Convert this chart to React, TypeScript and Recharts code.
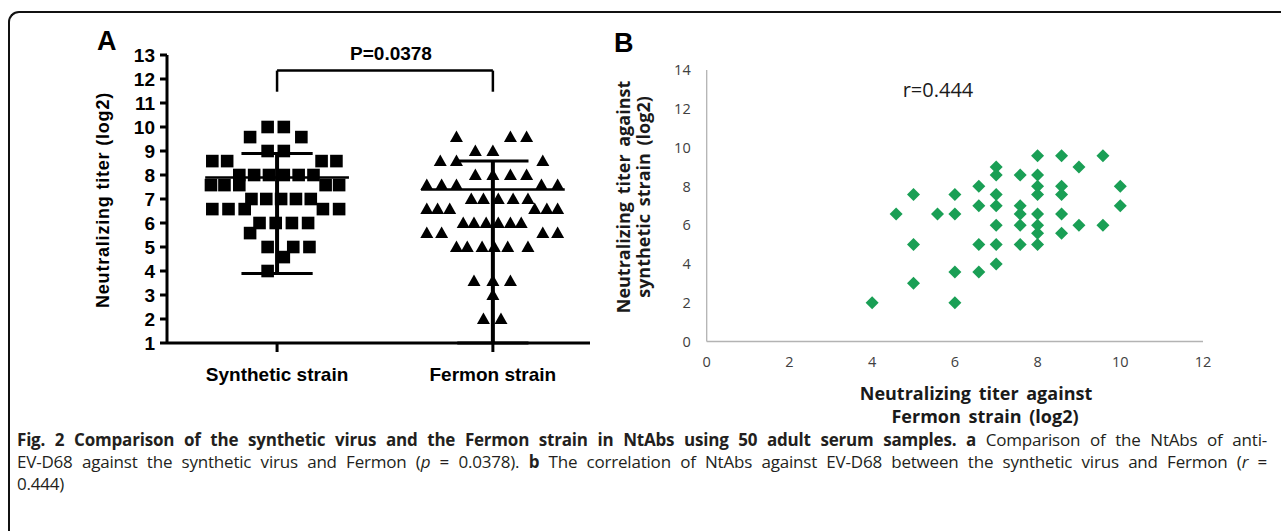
import React from "react";
import { ScatterChart, Scatter, XAxis, YAxis, ReferenceLine } from "recharts";

// ---- panel A data ----
const GROUPS = ["Synthetic strain", "Fermon strain"];
const A_TICKS = [1, 2, 3, 4, 5, 6, 7, 8, 9, 10, 11, 12, 13];

// [titer, horizontal slots of the markers in that row]
const SYN_ROWS: [number, number[]][] = [
  [10, [-0.7, 0.5]],
  [9.58, [-2, 1.8]],
  [9, [-0.7, 0.5]],
  [8.58, [-4.8, -3.7, 3.3, 4.4]],
  [8, [-2.8, -1.7, -0.6, 0.5, 1.6, 2.7]],
  [7.58, [-4.9, -3.9, -2.8, 3.6, 4.6]],
  [7, [-1.9, -0.8, 0.3, 1.4, 2.5]],
  [6.58, [-4.8, -3.6, -2.4, 3.4, 4.6]],
  [6, [-1.3, -0.1, 1.1, 2.3]],
  [5.58, [-2]],
  [5, [-0.7, 1.2, 2.4]],
  [4.58, [0.5]],
  [4, [-0.7]],
];

const FER_ROWS: [number, number[]][] = [
  [9.58, [-2.7, 1.3, 2.5]],
  [9, [-1.3, 0]],
  [8.58, [-3.9, -2.7, 3.7]],
  [8, [-1.3, 0, 1.3, 2.5]],
  [7.58, [-4.9, -3.8, -2.7, 3.6, 4.8]],
  [7, [-1.6, -0.7, 0.4, 1.5, 2.6]],
  [6.58, [-4.9, -4.1, -3.2, 3.1, 4, 4.8]],
  [6, [-2.2, -1.4, -0.5, 0.4, 1.3, 2.1]],
  [5.58, [-4.9, -3.8, 3.7, 4.8]],
  [5, [-2.7, -1.9, -0.8, 0.1, 1.1, 2.6]],
  [3.58, [-1.4, 0, 1.3]],
  [3, [0]],
  [2, [-0.7, 0.6]],
];

const SYN_STATS = { center: 7.9, low: 3.9, high: 8.9 };
const FER_STATS = { center: 7.4, low: 1, high: 8.58 };
const P_TEXT = "P=0.0378";

// ---- panel B data ----
const B_FERMON = [
  4, 4.58, 5, 5, 5, 5.58, 6, 6, 6, 6, 6.58, 6.58, 6.58, 6.58, 7, 7, 7, 7, 7, 7, 7,
  7.58, 7.58, 7.58, 7.58, 7.58, 8, 8, 8, 8, 8, 8, 8, 8, 8.58, 8.58, 8.58, 8.58, 8.58,
  9, 9, 9.58, 9.58, 10, 10,
];
const B_SYNTH = [
  2, 6.58, 7.58, 5, 3, 6.58, 7.58, 6.58, 3.58, 2, 8, 7, 5, 3.58, 9, 8.58, 7.58, 7, 6, 5, 4,
  8.58, 7, 6.58, 6, 5, 9.58, 8.58, 8, 7.58, 6.58, 6, 5.58, 5, 9.58, 8, 7.58, 6.58, 5.58,
  9, 6, 9.58, 6, 8, 7,
];
const B_XTICKS = [0, 2, 4, 6, 8, 10, 12];
const B_YTICKS = [0, 2, 4, 6, 8, 10, 12, 14];
const R_TEXT = "r=0.444";

const SLOT = 0.0625;
const ARIAL = "'Liberation Sans', Arial, sans-serif";
const OPEN = "'Open Sans', sans-serif";

const toPoints = (rows: [number, number[]][], group: number) =>
  rows.flatMap(([v, slots]) => slots.map((s) => ({ x: group + s * SLOT, y: v })));

const synPoints = toPoints(SYN_ROWS, 1);
const ferPoints = toPoints(FER_ROWS, 2);
const bPoints = B_FERMON.map((x, i) => ({ x, y: B_SYNTH[i] }));

const Square = (p: any) => {
  const r = 6.3;
  return <rect x={p.cx - r} y={p.cy - r} width={2 * r} height={2 * r} fill="#000" />;
};

const Triangle = (p: any) => (
  <path d={`M${p.cx},${p.cy - 6.5}L${p.cx + 6.5},${p.cy + 5}L${p.cx - 6.5},${p.cy + 5}Z`} fill="#000" />
);

const Diamond = (p: any) => {
  const r = 6.5;
  return (
    <path
      d={`M${p.cx},${p.cy - r}L${p.cx + r},${p.cy}L${p.cx},${p.cy + r}L${p.cx - r},${p.cy}Z`}
      fill="#1a9f55"
    />
  );
};

function statLines(g: number, s: { center: number; low: number; high: number }) {
  const k = `g${g}`;
  return [
    <ReferenceLine key={k + "v"} segment={[{ x: g, y: s.low }, { x: g, y: s.high }]} stroke="#000" strokeWidth={4} />,
    <ReferenceLine key={k + "m"} segment={[{ x: g - 0.333, y: s.center }, { x: g + 0.333, y: s.center }]} stroke="#000" strokeWidth={2.5} />,
    <ReferenceLine key={k + "h"} segment={[{ x: g - 0.165, y: s.high }, { x: g + 0.165, y: s.high }]} stroke="#000" strokeWidth={3} />,
    <ReferenceLine key={k + "l"} segment={[{ x: g - 0.165, y: s.low }, { x: g + 0.165, y: s.low }]} stroke="#000" strokeWidth={3} />,
  ];
}

function PanelA() {
  const top = 12.35;
  const foot = 11.47;
  return (
    <ScatterChart width={600} height={400} margin={{ top: 55, right: 10, bottom: 17, left: 107 }}>
      <XAxis
        type="number"
        dataKey="x"
        domain={[0.49, 2.45]}
        ticks={[1, 2]}
        tickFormatter={(v: number) => GROUPS[v - 1]}
        height={40}
        axisLine={{ stroke: "#000", strokeWidth: 3 }}
        tickLine={{ stroke: "#000", strokeWidth: 3 }}
        tickSize={9}
        tickMargin={16}
        tick={{ fill: "#000", fontSize: 19, fontWeight: 700, fontFamily: ARIAL }}
      />
      <YAxis
        type="number"
        dataKey="y"
        domain={[1, 13]}
        ticks={A_TICKS}
        interval={0}
        width={60}
        axisLine={{ stroke: "#000", strokeWidth: 3 }}
        tickLine={{ stroke: "#000", strokeWidth: 3 }}
        tickSize={7}
        tickMargin={5}
        tick={{ fill: "#000", fontSize: 19, fontWeight: 700, fontFamily: ARIAL }}
      />
      <Scatter data={synPoints} shape={Square} isAnimationActive={false} />
      <Scatter data={ferPoints} shape={Triangle} isAnimationActive={false} />
      {statLines(1, SYN_STATS)}
      {statLines(2, FER_STATS)}
      <ReferenceLine segment={[{ x: 1, y: top }, { x: 2, y: top }]} stroke="#000" strokeWidth={2.5} />
      <ReferenceLine segment={[{ x: 1, y: top }, { x: 1, y: foot }]} stroke="#000" strokeWidth={2.5} />
      <ReferenceLine segment={[{ x: 2, y: top }, { x: 2, y: foot }]} stroke="#000" strokeWidth={2.5} />
    </ScatterChart>
  );
}

function PanelB() {
  const tick = { fill: "#404040", fontSize: 14.5, fontFamily: OPEN };
  return (
    <ScatterChart width={640} height={440} margin={{ top: 70, right: 37, bottom: 68.5, left: 46.7 }}>
      <XAxis
        type="number"
        dataKey="x"
        domain={[0, 12]}
        ticks={B_XTICKS}
        interval={0}
        height={30}
        axisLine={{ stroke: "#b3b3b3", strokeWidth: 1.3 }}
        tickLine={false}
        tickSize={0}
        tickMargin={15}
        tick={tick}
      />
      <YAxis
        type="number"
        dataKey="y"
        domain={[0, 14]}
        ticks={B_YTICKS}
        interval={0}
        width={60}
        axisLine={{ stroke: "#b3b3b3", strokeWidth: 1.3 }}
        tickLine={false}
        tickSize={0}
        tickMargin={16}
        tick={tick}
      />
      <Scatter data={bPoints} shape={Diamond} isAnimationActive={false} />
    </ScatterChart>
  );
}

export default function App() {
  const abs = (l: number, t: number): React.CSSProperties => ({ position: "absolute", left: l, top: t });
  const line: React.CSSProperties = {
    position: "absolute",
    left: 17,
    width: 1250,
    fontFamily: OPEN,
    fontSize: 17,
    letterSpacing: -0.2,
    lineHeight: "22px",
    color: "#231f20",
  };
  return (
    <div style={{ position: "fixed", left: 0, top: 0, width: 1281, height: 531, background: "#fff", overflow: "hidden" }}>
      <div
        style={{
          position: "absolute",
          left: 8,
          top: 11,
          width: 1400,
          height: 700,
          borderLeft: "2px solid #111",
          borderTop: "2px solid #111",
          borderTopLeftRadius: 11,
        }}
      />
      <div style={abs(0, 0)}>
        <PanelA />
      </div>
      <div style={abs(600, 0)}>
        <PanelB />
      </div>
      <svg width={1281} height={531} style={{ position: "absolute", left: 0, top: 0, pointerEvents: "none" }}>
        <text x={97} y={50} fontFamily={ARIAL} fontWeight={700} fontSize={27} fill="#000">A</text>
        <text x={614} y={52} fontFamily={ARIAL} fontWeight={700} fontSize={27} fill="#000">B</text>
        <text
          transform="translate(109,200) rotate(-90)"
          textAnchor="middle"
          fontFamily={ARIAL}
          fontWeight={700}
          fontSize={18}
          letterSpacing={0.8}
          fill="#000"
        >
          Neutralizing titer (log2)
        </text>
        <text x={391} y={60} textAnchor="middle" fontFamily={ARIAL} fontWeight={700} fontSize={19} fill="#000">
          {P_TEXT}
        </text>
        <text x={938} y={97} textAnchor="middle" fontFamily={OPEN} fontSize={20} fill="#1a1a1a">
          {R_TEXT}
        </text>
        <g fontFamily={OPEN} fontWeight={700} fontSize={18} wordSpacing={3} fill="#1a1a1a" textAnchor="middle">
          <text x={976} y={400}>Neutralizing titer against</text>
          <text x={985} y={423}>Fermon strain (log2)</text>
          <text transform="translate(630,197) rotate(-90)">Neutralizing titer against</text>
          <text transform="translate(650,197) rotate(-90)">synthetic strain (log2)</text>
        </g>
      </svg>
      <div style={{ ...line, top: 429, textAlign: "justify", textAlignLast: "justify" }}>
        <b>
          Fig. 2 Comparison of the synthetic virus and the Fermon strain in NtAbs using 50 adult serum samples. a
        </b>{" "}
        Comparison of the NtAbs of anti-
      </div>
      <div style={{ ...line, top: 451, textAlign: "justify", textAlignLast: "justify" }}>
        EV-D68 against the synthetic virus and Fermon (<i>p</i> = 0.0378). <b>b</b> The correlation of NtAbs against
        EV-D68 between the synthetic virus and Fermon (<i>r</i> =
      </div>
      <div style={{ ...line, top: 473 }}>0.444)</div>
    </div>
  );
}
